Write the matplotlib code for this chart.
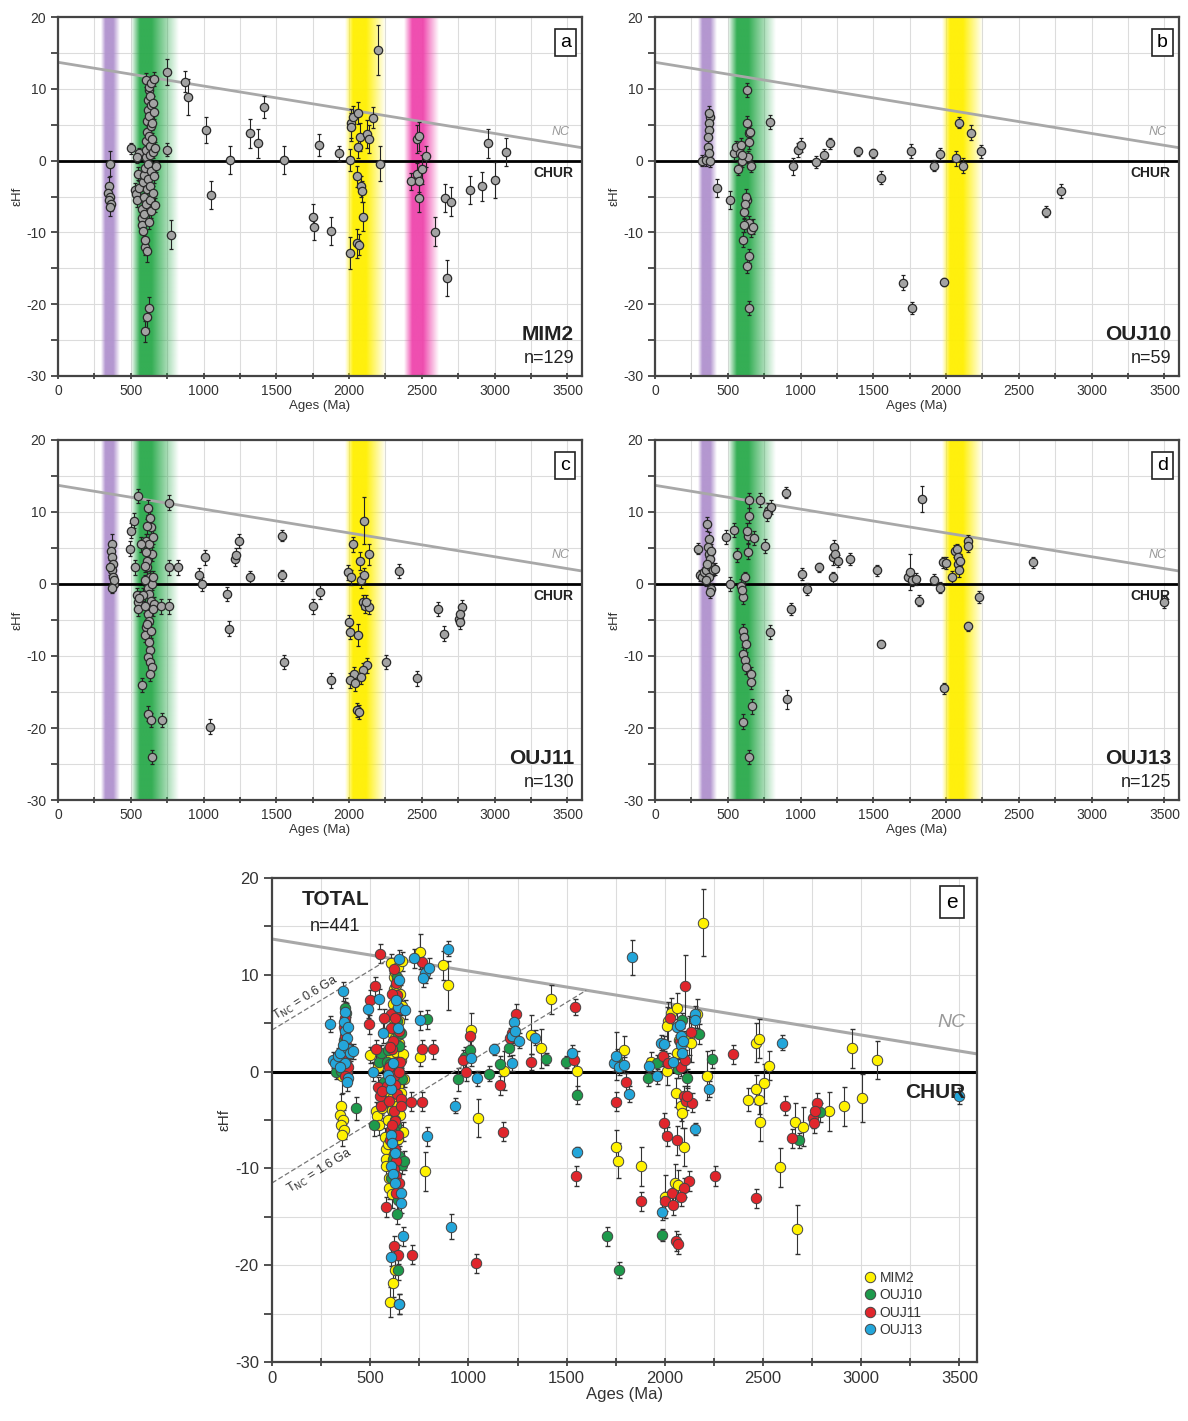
import numpy as np
import matplotlib
matplotlib.use("Agg")
import matplotlib.pyplot as plt
from matplotlib.colors import to_rgb

plt.rcParams['font.family'] = ['Liberation Sans Narrow', 'Liberation Sans', 'DejaVu Sans']
plt.rcParams['axes.unicode_minus'] = False

# ---------------- data: (age Ma, eHf, 2s error) ----------------
mim2 = [
    (356, -0.4, 1.8), (350, -3.5, 1.2), (345, -4.5, 1.0), (360, -5.0, 1.0), (352, -5.5, 1.0),
    (365, -6.0, 1.0), (358, -6.5, 1.2),
    (501, 1.7, 0.8), (527, -4.1, 1.0), (535, -4.6, 1.0), (545, -5.5, 1.0), (548, -1.8, 0.9),
    (555, 1.0, 0.8), (560, -3.8, 1.0), (540, 0.5, 0.8),
    (575, -6.8, 1.0), (578, -8.0, 1.0), (580, -9.0, 1.2), (582, -9.8, 1.0), (585, -3.0, 1.0),
    (588, -2.0, 0.9), (590, -5.0, 1.0), (592, -7.5, 1.0), (595, -12.0, 1.2), (598, -11.0, 1.0),
    (600, -23.8, 1.5), (600, -1.0, 0.9), (602, 0.5, 0.8), (605, 1.5, 0.9), (605, -6.0, 1.0),
    (607, 2.8, 0.9), (608, 11.2, 1.0), (610, -4.0, 1.0), (612, 4.0, 1.0), (612, -12.6, 1.5),
    (615, 5.5, 1.0), (615, -21.8, 1.5), (618, 7.0, 1.0), (618, -2.6, 0.9), (620, 8.5, 1.0),
    (620, -0.5, 0.8), (622, 9.8, 1.0), (622, -8.5, 1.0), (625, 10.3, 1.0), (625, 3.5, 0.9),
    (627, -20.5, 1.5), (628, 6.2, 1.0), (630, 2.0, 0.9), (630, -5.5, 1.0), (632, 9.0, 1.0),
    (633, 0.8, 0.8), (635, -3.5, 1.0), (636, 7.8, 1.0), (638, 4.8, 1.0), (640, -1.5, 0.9),
    (640, -7.0, 1.0), (642, 10.8, 1.0), (645, 5.2, 1.0), (648, 3.0, 0.9), (650, -4.5, 1.0),
    (652, 8.0, 1.0), (655, 1.2, 0.8), (658, -2.2, 0.9), (660, 11.4, 1.0), (662, 6.8, 1.0),
    (665, -6.2, 1.0), (668, 1.8, 0.8), (670, -0.8, 0.8),
    (751, 12.4, 1.8), (751, 1.5, 0.9), (778, -10.3, 2.0), (870, 11.0, 1.5), (896, 8.9, 2.5),
    (1015, 4.3, 1.8), (1049, -4.8, 2.0), (1181, 0.1, 2.0), (1318, 3.8, 2.0), (1371, 2.4, 2.0),
    (1418, 7.5, 1.5), (1555, 0.1, 2.0), (1753, -7.8, 1.8), (1761, -9.2, 1.8), (1792, 2.2, 1.5),
    (1877, -9.8, 2.0), (1930, 1.0, 1.0), (2003, -12.9, 2.2), (2009, 0.1, 1.5), (2016, 5.2, 2.0),
    (2012, 4.7, 2.0), (2030, 6.1, 1.5), (2051, -11.5, 2.0), (2069, -11.7, 1.5), (2064, 6.6, 1.5),
    (2072, 3.3, 2.0), (2062, 1.9, 1.5), (2056, -2.2, 1.5), (2083, -3.6, 1.5), (2088, -4.3, 1.5),
    (2096, -7.8, 2.0), (2122, 3.7, 2.0), (2135, 3.0, 2.0), (2162, 6.0, 1.5), (2196, 15.4, 3.5),
    (2214, -0.4, 2.5), (2425, -2.9, 1.2), (2465, 3.0, 2.0), (2478, 3.4, 2.0), (2465, -1.8, 1.5),
    (2478, -2.9, 1.5), (2483, -5.2, 2.0), (2504, -1.2, 2.0), (2531, 0.6, 1.5), (2589, -9.9, 2.0),
    (2662, -5.2, 2.0), (2702, -5.7, 2.0), (2675, -16.3, 2.5), (2834, -4.1, 2.0), (2913, -3.6, 2.0),
    (2952, 2.4, 2.0), (3005, -2.7, 2.5), (3079, 1.2, 2.0),
]

ouj10 = [
    (324, 0.0, 0.8), (350, 0.1, 0.8), (376, 6.1, 1.0), (370, 5.2, 1.0), (372, 4.3, 1.0),
    (365, 3.3, 1.0), (362, 1.9, 1.0), (368, 1.0, 0.9), (380, -0.1, 0.8), (374, 6.6, 1.0),
    (428, -3.8, 1.2), (519, -5.5, 1.2), (545, 1.0, 0.9), (557, 1.9, 0.9), (570, -1.1, 0.9),
    (583, 1.0, 0.9), (591, 2.2, 0.9), (596, -0.1, 0.8), (609, -7.1, 1.0), (604, -11.0, 1.0),
    (630, -5.5, 1.0), (625, -5.0, 1.0), (635, 9.8, 1.0), (635, 5.2, 1.0), (643, 3.8, 1.0),
    (648, 2.6, 1.0), (656, 4.0, 1.0), (661, -0.8, 0.8), (648, -8.7, 1.0), (661, -9.6, 1.0),
    (643, -13.3, 1.0), (635, -14.7, 1.0), (643, -20.5, 1.0), (674, -9.2, 1.0), (620, -6.0, 1.0),
    (615, -9.0, 1.0), (640, 0.5, 0.8), (600, 0.8, 0.8),
    (791, 5.4, 1.0), (946, -0.8, 1.2), (985, 1.5, 1.0), (1006, 2.2, 1.0), (1107, -0.2, 0.8),
    (1162, 0.8, 0.8), (1206, 2.4, 0.8), (1395, 1.3, 0.6), (1499, 1.0, 0.6), (1551, -2.4, 0.9),
    (1704, -17.0, 1.0), (1758, 1.3, 1.0), (1768, -20.5, 0.8), (1914, -0.7, 0.8), (1958, 0.9, 0.8),
    (1984, -16.9, 0.6), (2069, 0.3, 1.0), (2087, 5.3, 0.8), (2113, -0.7, 1.0), (2173, 3.9, 1.0),
    (2238, 1.3, 0.9), (2684, -7.1, 0.8), (2788, -4.2, 1.0),
]

ouj11 = [
    (369, 5.5, 1.5), (365, 4.6, 1.0), (370, 3.7, 1.0), (375, 2.8, 1.0), (368, 1.9, 1.0),
    (378, 0.9, 0.8), (382, 0.0, 0.8), (385, 0.5, 0.8), (372, -0.5, 0.8), (360, 2.3, 1.0),
    (501, 7.4, 1.0), (522, 8.8, 1.0), (496, 4.9, 1.0), (527, 2.3, 1.0), (540, -1.6, 1.0),
    (548, -2.5, 1.0), (553, -3.5, 1.0), (549, 12.2, 1.0), (580, -14.0, 1.0), (607, 6.0, 1.0),
    (612, 2.3, 1.0), (620, -0.5, 0.8), (627, -1.4, 0.9), (620, -4.1, 1.0), (627, -5.1, 1.0),
    (607, -6.0, 1.0), (601, -7.1, 1.0), (620, 10.6, 1.0), (633, 9.2, 1.0), (638, 7.9, 1.0),
    (646, 4.2, 1.0), (633, 1.0, 0.8), (646, 0.0, 0.8), (638, -2.3, 0.9), (633, -9.2, 1.0),
    (620, -10.1, 1.0), (633, -10.8, 1.0), (646, -11.5, 1.0), (620, -18.0, 1.0), (641, -18.9, 1.0),
    (646, -24.0, 1.0), (659, -2.8, 1.0), (654, 1.0, 0.8), (615, 3.2, 1.0), (625, 5.5, 1.0),
    (640, -6.5, 1.0), (630, -12.5, 1.0), (598, -3.0, 1.0), (610, 8.0, 1.0), (585, -1.5, 0.9),
    (600, 2.5, 0.9), (612, -5.5, 1.0), (625, -8.0, 1.0), (605, 4.5, 1.0), (650, 6.5, 1.0),
    (655, -3.5, 1.0), (595, 0.5, 0.8), (560, -2.0, 1.0), (568, 5.5, 1.0),
    (707, -3.1, 1.0), (712, -18.9, 1.0), (765, 11.3, 1.0), (765, 2.3, 1.0), (765, -3.1, 1.0),
    (822, 2.3, 1.0), (970, 1.2, 1.0), (989, 0.0, 1.0), (1010, 3.7, 1.0), (1041, -19.8, 1.0),
    (1160, -1.4, 1.0), (1178, -6.2, 1.0), (1213, 3.5, 1.0), (1220, 4.0, 1.0), (1244, 6.0, 1.0),
    (1318, 1.0, 0.8), (1542, 6.7, 0.8), (1537, 1.2, 0.8), (1550, -10.8, 1.0), (1753, -3.1, 1.0),
    (1800, -1.1, 1.0), (1877, -13.4, 1.0), (1998, -5.3, 1.0), (2009, -6.7, 1.0), (1990, 1.6, 1.0),
    (2014, 0.9, 1.0), (2027, 5.5, 1.0), (2035, -12.5, 1.0), (2003, -13.4, 1.0), (2040, -13.8, 1.0),
    (2056, -17.5, 1.0), (2067, -17.8, 1.0), (2062, -7.1, 1.5), (2078, 3.2, 1.2), (2083, 0.5, 1.0),
    (2096, -2.5, 1.0), (2103, 8.8, 3.3), (2103, 1.2, 1.0), (2109, -3.0, 1.0), (2122, -11.3, 1.0),
    (2096, -12.0, 1.0), (2083, -12.9, 1.0), (2135, 4.1, 1.5), (2140, -3.2, 1.0), (2115, -2.5, 1.0),
    (2254, -10.8, 1.0), (2346, 1.8, 1.0), (2465, -13.1, 1.0), (2610, -3.5, 1.0), (2649, -6.9, 1.0),
    (2755, -4.8, 1.0), (2760, -5.3, 1.0), (2776, -3.2, 1.0), (2763, -4.1, 1.0),
]

ouj13 = [
    (296, 4.9, 0.8), (309, 1.2, 0.8), (322, 0.9, 0.8), (335, 1.6, 0.8), (348, 1.9, 0.8),
    (361, 8.3, 1.0), (374, 6.2, 1.0), (366, 5.1, 1.0), (374, 4.2, 1.0), (381, 3.5, 1.0),
    (387, 2.3, 1.0), (374, 0.9, 0.8), (387, -0.7, 0.8), (381, -1.1, 0.9), (399, 1.9, 0.8),
    (412, 2.1, 0.8), (361, 2.8, 1.0), (348, 0.5, 0.8), (387, 4.6, 1.0),
    (490, 6.5, 1.0), (515, 0.0, 1.0), (546, 7.5, 1.0), (567, 4.0, 1.0), (593, -0.3, 1.0),
    (606, -1.8, 1.0), (600, -0.9, 1.0), (618, 0.9, 0.8), (606, -6.5, 1.0), (613, -7.4, 1.0),
    (626, -8.4, 1.0), (606, -9.7, 1.0), (618, -10.6, 1.0), (626, -11.5, 1.0), (606, -19.1, 1.0),
    (639, 4.5, 1.0), (639, 6.7, 1.0), (631, 7.4, 1.0), (644, 9.5, 1.0), (644, 11.6, 1.0),
    (657, -12.5, 1.0), (657, -13.6, 1.0), (665, -17.0, 1.0), (644, -24.0, 1.0), (678, 6.4, 1.0),
    (722, 11.7, 1.0), (755, 5.3, 1.0), (778, 10.2, 1.0), (799, 10.7, 1.0), (768, 9.7, 1.0),
    (791, -6.7, 1.0),
    (897, 12.7, 0.8), (910, -16.0, 1.3), (933, -3.5, 0.8), (1013, 1.4, 0.8), (1044, -0.7, 0.8),
    (1129, 2.3, 0.6), (1224, 0.9, 0.8), (1224, 3.7, 1.0), (1231, 5.1, 1.0), (1237, 4.2, 1.0),
    (1257, 3.2, 0.8), (1340, 3.5, 0.8), (1525, 1.9, 0.8), (1551, -8.3, 0.5), (1739, 0.9, 0.8),
    (1752, 1.6, 2.5), (1765, 0.5, 0.8), (1791, 0.7, 0.8), (1817, -2.3, 0.8), (1835, 11.8, 1.8),
    (1920, 0.6, 0.8), (1958, -0.5, 0.8), (1979, 3.0, 0.8), (1997, 2.9, 0.8), (1984, -14.5, 0.8),
    (2041, 1.0, 0.8), (2062, 4.6, 0.8), (2075, 4.8, 0.8), (2083, 3.7, 1.0), (2083, 2.8, 1.0),
    (2088, 1.9, 1.0), (2093, 3.2, 1.0), (2152, 6.0, 0.8), (2152, 5.3, 0.8), (2152, -5.9, 0.6),
    (2224, -1.8, 0.8), (2598, 3.0, 0.8), (3500, -2.5, 0.8),
]

samples = ["MIM2", "OUJ10", "OUJ11", "OUJ13"]
sample_n = [129, 59, 130, 125]
sample_colors = ["#FFF200", "#1E9A4C", "#E0262C", "#23A6DA"]
panel_letters = ["a", "b", "c", "d"]

# new crust line (NC) and Tnc crustal evolution lines
nc_age = [0, 3600]
nc_ehf = [13.7, 1.8]
tnc06_age = [0, 600]
tnc06_ehf = [4.3, 11.7]
tnc16_age = [0, 1600]
tnc16_ehf = [-11.5, 8.4]

# age peaks shaded (fade-in, full, full, fade-out) and colour
band_purple = ([295, 325, 380, 425], "#B092CE")
band_green = ([505, 565, 645, 830], "#2AAA4C")
band_yellow = ([1970, 2025, 2115, 2250], "#FFF000")
band_pink = ([2375, 2430, 2505, 2610], "#EF45AC")
panel_bands = [
    [band_purple, band_green, band_yellow, band_pink],
    [band_purple, band_green, band_yellow],
    [band_purple, band_green, band_yellow],
    [band_purple, band_green, band_yellow],
]

all_data = [mim2, ouj10, ouj11, ouj13]


def draw_band(ax, xs, color):
    xx = np.linspace(xs[0], xs[3], 400)
    alpha = np.interp(xx, xs, [0, 0.95, 0.95, 0])
    img = np.zeros((1, len(xx), 4))
    img[..., :3] = to_rgb(color)
    img[..., 3] = alpha
    ax.imshow(img, extent=[xs[0], xs[3], -30, 20], aspect='auto', zorder=0.6,
              interpolation='bilinear')


def setup_axes(ax, big=False):
    xmax = 3590 if big else 3600
    ax.set_xlim(0, xmax)
    ax.set_ylim(-30, 20)
    ax.set_xticks(np.arange(0, 3501, 500))
    ax.set_xticks(np.arange(250, 3501, 500), minor=True)
    ax.set_yticks(np.arange(-30, 21, 10))
    ax.set_yticks(np.arange(-25, 20, 10), minor=True)
    ax.grid(True, which='both', color='#dcdcdc', lw=0.8)
    ax.set_axisbelow(True)
    fs = 12 if big else 10
    ax.tick_params(axis='both', which='both', labelsize=fs, colors='#333333',
                   length=6 if big else 5, width=1.2)
    ax.tick_params(axis='x', which='both', direction='inout')
    for s in ax.spines.values():
        s.set_color('#444444')
        s.set_linewidth(1.6)
    ax.set_xlabel("Ages (Ma)", fontsize=12 if big else 9.5, color='#333333', labelpad=1)
    ax.set_ylabel("εHf", fontsize=11 if big else 9.5, color='#333333', labelpad=2)
    ax.plot(nc_age, nc_ehf, color='#a8a8a8', lw=2.2 if big else 2, zorder=1)
    ax.axhline(0, color='black', lw=2.2 if big else 2, zorder=1)


fig = plt.figure(figsize=(11.88, 14.21), dpi=100)
positions = [
    [0.0488, 0.7354, 0.4411, 0.2526],
    [0.5513, 0.7354, 0.4411, 0.2526],
    [0.0488, 0.4370, 0.4411, 0.2534],
    [0.5513, 0.4370, 0.4411, 0.2534],
]

for i in range(4):
    ax = fig.add_axes(positions[i])
    for xs, col in panel_bands[i]:
        draw_band(ax, xs, col)
    setup_axes(ax)
    d = np.array(all_data[i])
    ax.errorbar(d[:, 0], d[:, 1], yerr=d[:, 2], fmt='o', ms=6, mfc='#a3a3a3', mec='#2a2a2a',
                mew=0.9, ecolor='#222222', elinewidth=0.8, capsize=1.5, zorder=3)
    ax.text(3450, 3.6, "NC", fontsize=9, style='italic', color='#999999', ha='center', zorder=4)
    ax.text(3540, -1.7, "CHUR", fontsize=10, fontweight='bold', color='#222222',
            ha='right', va='center', zorder=4)
    ax.text(0.968, 0.93, panel_letters[i], transform=ax.transAxes, fontsize=14,
            ha='center', va='center', zorder=5,
            bbox=dict(boxstyle='square,pad=0.25', fc='white', ec='#222222', lw=1.2))
    ax.text(0.985, 0.115, samples[i], transform=ax.transAxes, fontsize=15,
            fontweight='bold', ha='right', va='center', color='#222222', zorder=5)
    ax.text(0.985, 0.05, "n=%d" % sample_n[i], transform=ax.transAxes, fontsize=13,
            ha='right', va='center', color='#222222', zorder=5)

# ---------------- total panel ----------------
ax = fig.add_axes([0.229, 0.0415, 0.5934, 0.3406])
setup_axes(ax, big=True)
for d, name, col in zip(all_data, samples, sample_colors):
    d = np.array(d)
    ax.errorbar(d[:, 0], d[:, 1], yerr=d[:, 2], fmt='none', ecolor='#333333',
                elinewidth=0.8, capsize=1.8, zorder=2)
    ax.plot(d[:, 0], d[:, 1], 'o', ms=7.5, mfc=col, mec='#444444', mew=0.7,
            label=name, zorder=3)

ax.plot(tnc06_age, tnc06_ehf, color='#777777', lw=0.9, ls=(0, (4, 2)), zorder=2.5)
ax.plot(tnc16_age, tnc16_ehf, color='#777777', lw=0.9, ls=(0, (4, 2)), zorder=2.5)

# rotation of Tnc labels following the dashed lines on screen
p0 = ax.transData.transform((tnc16_age[0], tnc16_ehf[0]))
p1 = ax.transData.transform((tnc16_age[1], tnc16_ehf[1]))
ang = np.degrees(np.arctan2(p1[1] - p0[1], p1[0] - p0[0]))
ax.text(30, 4.9, r"T$_{\rm NC}$ = 0.6 Ga", fontsize=9, color='#333333', rotation=ang,
        rotation_mode='anchor', ha='left', va='bottom', zorder=4)
ax.text(60, -11.6, r"T$_{\rm NC}$ = 1.6 Ga", fontsize=9, color='#333333', rotation=ang,
        rotation_mode='anchor', ha='left', va='top', zorder=4)

ax.text(3460, 4.6, "NC", fontsize=14, style='italic', color='#999999', ha='center', zorder=4)
ax.text(3530, -2.2, "CHUR", fontsize=15, fontweight='bold', color='#222222',
        ha='right', va='center', zorder=4)
ax.text(0.965, 0.95, "e", transform=ax.transAxes, fontsize=15, ha='center', va='center',
        zorder=5, bbox=dict(boxstyle='square,pad=0.3', fc='white', ec='#222222', lw=1.2))
ax.text(0.09, 0.955, "TOTAL", transform=ax.transAxes, fontsize=15, fontweight='bold',
        ha='center', va='center', color='#222222')
ax.text(0.09, 0.9, "n=441", transform=ax.transAxes, fontsize=13, ha='center',
        va='center', color='#222222')

leg = ax.legend(loc='lower left', bbox_to_anchor=(0.83, 0.04), frameon=False, fontsize=10,
                handletextpad=0.2, labelspacing=0.25, borderaxespad=0, handlelength=1.0)
for t in leg.get_texts():
    t.set_color('#333333')

fig.savefig("out.png", dpi=100)
